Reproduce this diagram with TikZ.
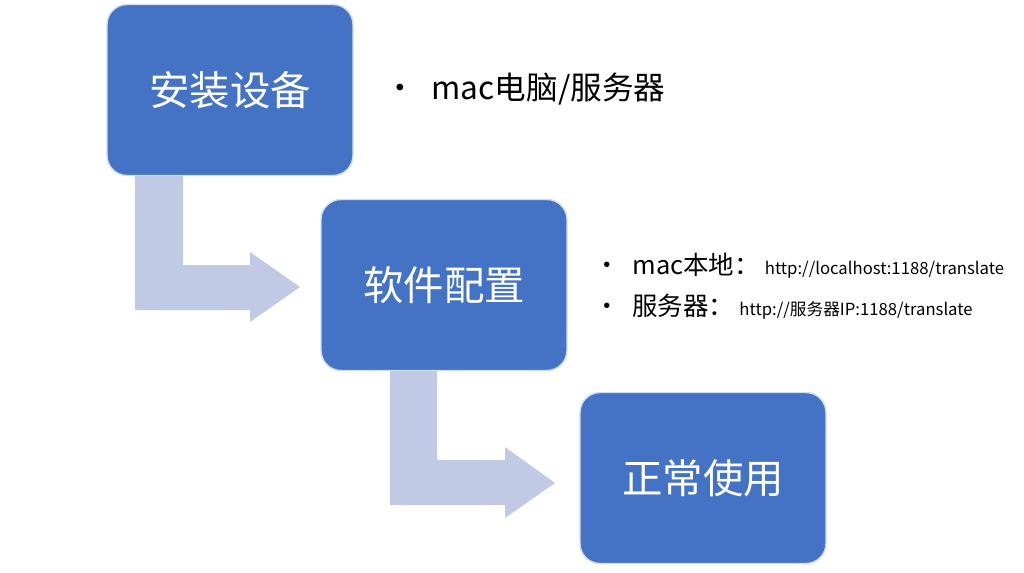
\documentclass[tikz,border=0pt]{standalone}
\usepackage{fontspec}
\setmainfont{Noto Sans CJK SC}
\usetikzlibrary{positioning}
\definecolor{boxblue}{HTML}{4472C4}
\definecolor{arrowblue}{HTML}{C0CAE4}
\begin{document}
\begin{tikzpicture}[x=0.02cm, y=-0.02cm,
    stage/.style={rectangle, draw=white!75!boxblue, line width=0.8pt, rounded corners=0.4cm, fill=boxblue, minimum width=4.92cm, minimum height=3.42cm, font=\fontsize{23}{27}\selectfont, text=white},
    bentarrow/.style={fill=arrowblue, draw=none},
    item/.style={anchor=west, font=\fontsize{18}{22}\selectfont},
    subitem/.style={anchor=west, font=\fontsize{14.5}{18}\selectfont}
]
\useasboundingbox (0,0) rectangle (1024,572);

% Bent arrows (background)
\fill[bentarrow] (135,176) -- (183,176) -- (183,265) -- (250,265) -- (250,252) -- (300,287) -- (250,322) -- (250,310) -- (135,310) -- cycle;
\fill[bentarrow] (390,371) -- (437,371) -- (437,460) -- (505,460) -- (505,447) -- (555,483) -- (505,518) -- (505,505) -- (390,505) -- cycle;

% Stages
\node[stage] (install) at (230,90) {安装设备};
\node[stage] (config) at (444,285) {软件配置};
\node[stage] (use) at (703,478) {正常使用};

% Notes
\node[item] (device) at (378,89) {\textbullet\hspace{0.5em}mac电脑/服务器};
\node[subitem] (local) at (588,266) {\textbullet\hspace{0.5em}mac本地：\hspace{0.2em}{\fontsize{9.5}{12}\selectfont http://localhost:1188/translate}};
\node[subitem] (server) at (588,307) {\textbullet\hspace{0.5em}服务器：\hspace{0.2em}{\fontsize{9.5}{12}\selectfont http://服务器IP:1188/translate}};
\end{tikzpicture}
\end{document}
